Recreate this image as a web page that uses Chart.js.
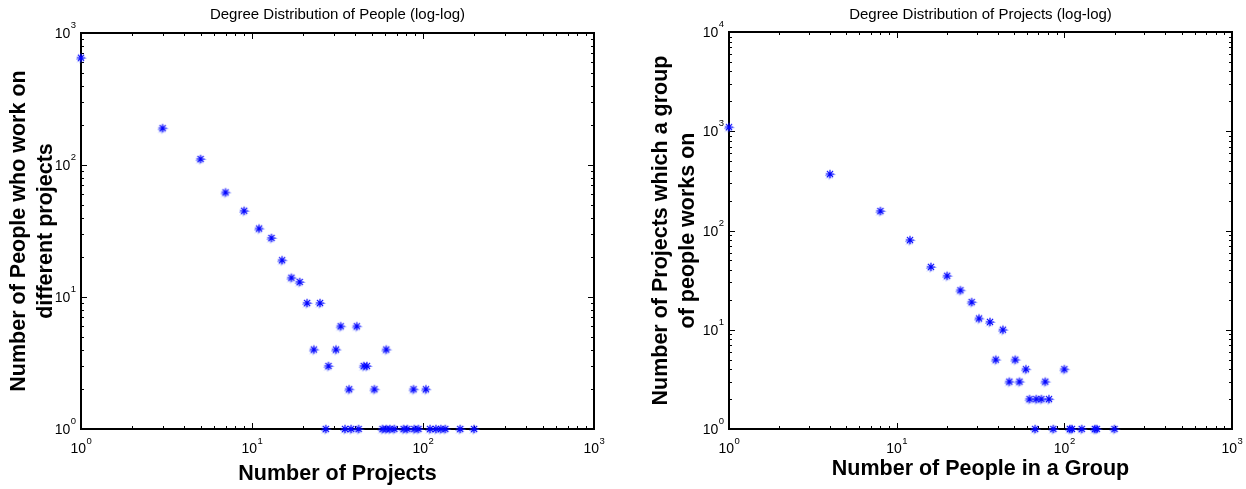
<!DOCTYPE html>
<html>
<head>
<meta charset="utf-8">
<script src="https://cdn.jsdelivr.net/npm/chart.js@4.4.1/dist/chart.umd.min.js"></script>
<style>
  html, body { margin: 0; padding: 0; background: #fff; }
  .row { display: flex; width: 1246px; height: 489px; }
  canvas { display: block; }
</style>
</head>
<body>
<div class="row">
  <canvas id="people" width="623" height="489"></canvas>
  <canvas id="projects" width="623" height="489"></canvas>
</div>
<script>
// People: how many projects a person works on -> number of such people
const peopleProjects = [1, 3, 5, 7, 9, 11, 13, 15, 17, 19, 21, 23, 25, 28, 31, 33, 37, 41, 45, 47, 52, 61, 88, 104,
  27, 35, 38, 42, 58, 61, 64, 68, 77, 81, 89, 94, 110, 119, 127, 135, 165, 199];
const peopleCounts = [650, 190, 111, 62, 45, 33, 28, 19, 14, 13, 9, 4, 9, 3, 4, 6, 2, 6, 3, 3, 2, 4, 2, 2,
  1, 1, 1, 1, 1, 1, 1, 1, 1, 1, 1, 1, 1, 1, 1, 1, 1, 1];

// Projects: size of the group working on a project -> number of such projects
const groupSizes = [1, 4, 8, 12, 16, 20, 24, 28, 31, 36, 43, 39, 51, 47, 54, 59, 62, 68, 73, 81, 77, 100,
  67, 86, 108, 111, 127, 152, 156, 199];
const projectCounts = [1100, 370, 157, 80, 43, 35, 25, 19, 13, 12, 10, 5, 5, 3, 3, 4, 2, 2, 2, 2, 3, 4,
  1, 1, 1, 1, 1, 1, 1, 1];

// decade exponents used for the 10^n tick labels
const xDecades = [0, 1, 2, 3];
const peopleDecades = [0, 1, 2, 3];
const projectDecades = [0, 1, 2, 3, 4];

const FONT = '"Liberation Sans", Arial, Helvetica, sans-serif';
const BLUE = '#0000ff';

// asterisk marker with the slight smear seen on the printed figure
function starMarker() {
  const c = document.createElement('canvas');
  c.width = 22; c.height = 22;
  const g = c.getContext('2d');
  const star = (cx, cy, r) => {
    const d = r * 0.72;
    g.beginPath();
    g.moveTo(cx - r, cy); g.lineTo(cx + r, cy);
    g.moveTo(cx, cy - r); g.lineTo(cx, cy + r);
    g.moveTo(cx - d, cy - d); g.lineTo(cx + d, cy + d);
    g.moveTo(cx - d, cy + d); g.lineTo(cx + d, cy - d);
    g.stroke();
  };
  g.lineWidth = 1;
  g.strokeStyle = 'rgba(50, 80, 255, 0.45)';
  star(10, 12.5, 4);
  g.beginPath(); g.moveTo(12, 11.5); g.lineTo(16.5, 11.5); g.stroke();
  g.lineWidth = 1.15;
  g.strokeStyle = BLUE;
  star(11, 11, 4.3);
  return c;
}

// box, inward ticks and 10^n labels in the old plotting style
const logAxes = {
  id: 'logAxes',
  beforeDatasetsDraw(chart, args, opts) {
    const { ctx, chartArea: a, scales: { x, y } } = chart;
    ctx.save();
    ctx.strokeStyle = '#000';
    ctx.lineWidth = 1;
    ctx.beginPath();
    for (let e = 0; e < 3; e++) {
      for (let k = 1; k <= 10; k++) {
        const px = Math.round(x.getPixelForValue(k * Math.pow(10, e))) + 0.5;
        const len = (k === 1 || k === 10) ? 6 : 3;
        ctx.moveTo(px, a.bottom); ctx.lineTo(px, a.bottom - len);
        ctx.moveTo(px, a.top); ctx.lineTo(px, a.top + len);
      }
    }
    for (let e = 0; e < opts.yDecades.length - 1; e++) {
      for (let k = 1; k <= 10; k++) {
        const py = Math.round(y.getPixelForValue(k * Math.pow(10, e))) + 0.5;
        const len = (k === 1 || k === 10) ? 6 : 3;
        ctx.moveTo(a.left, py); ctx.lineTo(a.left + len, py);
        ctx.moveTo(a.right, py); ctx.lineTo(a.right - len, py);
      }
    }
    ctx.stroke();
    ctx.lineWidth = 2;
    ctx.strokeRect(a.left, a.top, a.right - a.left, a.bottom - a.top);

    ctx.fillStyle = '#000';
    ctx.textBaseline = 'alphabetic';
    const base = '14px ' + FONT, sup = '9.5px ' + FONT;
    xDecades.forEach(n => {
      const px = x.getPixelForValue(Math.pow(10, n));
      ctx.font = base; ctx.textAlign = 'left';
      const w = ctx.measureText('10').width;
      ctx.fillText('10', px - 10.5, a.bottom + 24);
      ctx.font = sup;
      ctx.fillText(String(n), px - 10.5 + w + 0.5, a.bottom + 15);
    });
    opts.yDecades.forEach(n => {
      const py = y.getPixelForValue(Math.pow(10, n));
      ctx.textAlign = 'right';
      ctx.font = sup;
      const ew = ctx.measureText(String(n)).width;
      ctx.fillText(String(n), a.left - 5, py - 5);
      ctx.font = base;
      ctx.fillText('10', a.left - 5 - ew - 0.5, py + 5);
    });
    ctx.restore();
  }
};

function makeChart(id, cfg) {
  return new Chart(document.getElementById(id), {
    type: 'scatter',
    data: {
      datasets: [{
        data: cfg.xs.map((v, i) => ({ x: v, y: cfg.ys[i] })),
        pointStyle: starMarker(),
        pointRadius: 5,
        clip: false
      }]
    },
    plugins: [logAxes],
    options: {
      responsive: false,
      animation: false,
      events: [],
      layout: { padding: { left: 0, right: cfg.padRight, top: 0, bottom: 0 } },
      plugins: {
        legend: { display: false },
        tooltip: { enabled: false },
        title: {
          display: true,
          text: cfg.title,
          fullSize: false,
          color: '#000',
          font: { family: FONT, size: 15, weight: 'normal', lineHeight: 1.2 },
          padding: { top: 6, bottom: cfg.titleGap }
        },
        logAxes: { yDecades: cfg.yDecades }
      },
      scales: {
        x: {
          type: 'logarithmic',
          min: 1, max: 1000,
          grid: { display: false },
          border: { display: false },
          ticks: { display: false },
          title: {
            display: true,
            text: cfg.xTitle,
            color: '#000',
            font: { family: FONT, size: 21.5, weight: 'bold', lineHeight: 1.25 },
            padding: { top: 0, bottom: cfg.xTitlePad }
          },
          afterFit: s => { s.height = 60; }
        },
        y: {
          type: 'logarithmic',
          min: 1, max: Math.pow(10, cfg.yDecades[cfg.yDecades.length - 1]),
          grid: { display: false },
          border: { display: false },
          ticks: { display: false },
          title: {
            display: true,
            text: cfg.yTitle,
            color: '#000',
            font: { family: FONT, size: 21.5, weight: 'bold', lineHeight: 1.25 },
            padding: { top: cfg.yTitlePad, bottom: 0 }
          },
          afterFit: s => { s.width = cfg.yWidth; }
        }
      }
    }
  });
}

makeChart('people', {
  xs: peopleProjects, ys: peopleCounts, yDecades: peopleDecades,
  title: 'Degree Distribution of People (log-log)',
  xTitle: 'Number of Projects',
  yTitle: ['Number of People who work on', 'different projects'],
  padRight: 29, titleGap: 9, xTitlePad: 1, yTitlePad: 6, yWidth: 81
});

makeChart('projects', {
  xs: groupSizes, ys: projectCounts, yDecades: projectDecades,
  title: 'Degree Distribution of Projects (log-log)',
  xTitle: 'Number of People in a Group',
  yTitle: ['Number of Projects which a group', 'of people works on'],
  padRight: 14, titleGap: 8, xTitlePad: 6, yTitlePad: 24.5, yWidth: 106
});
</script>
</body>
</html>
